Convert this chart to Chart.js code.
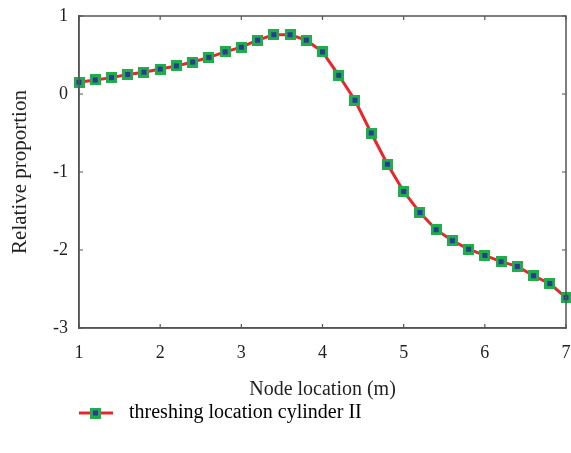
<!DOCTYPE html>
<html>
<head>
<meta charset="utf-8">
<script src="https://cdn.jsdelivr.net/npm/chart.js@4.4.1/dist/chart.umd.min.js"></script>
<style>
  html, body { margin: 0; padding: 0; background: #fff; }
  #wrap { width: 571px; height: 453px; }
</style>
</head>
<body>
<div id="wrap"><canvas id="myChart" width="571" height="453"></canvas></div>
<script>
// node locations (m)
const nodeLocations = [1.0, 1.2, 1.4, 1.6, 1.8, 2.0, 2.2, 2.4, 2.6, 2.8, 3.0,
  3.2, 3.4, 3.6, 3.8, 4.0, 4.2, 4.4, 4.6, 4.8, 5.0,
  5.2, 5.4, 5.6, 5.8, 6.0, 6.2, 6.4, 6.6, 6.8, 7.0];
// relative proportion values
const relativeProportion = [0.15, 0.18, 0.21, 0.25, 0.28, 0.32, 0.36, 0.41, 0.47, 0.54, 0.60,
  0.69, 0.76, 0.76, 0.69, 0.54, 0.24, -0.08, -0.50, -0.90, -1.25,
  -1.52, -1.74, -1.88, -1.99, -2.07, -2.15, -2.21, -2.33, -2.43, -2.61];
const seriesName = "threshing location cylinder II";
const xTitle = "Node location (m)";
const yTitle = "Relative proportion";

const red = "#e8262b";
const green = "#1fae4b";
const blue = "#2b3a92";
const textColor = "#231f20";
const axisColor = "#555555";
const serif = "'Liberation Serif', 'Times New Roman', serif";

// square marker: green box with a blue centre
function makeMarker(size, inner) {
  const c = document.createElement("canvas");
  c.width = size;
  c.height = size;
  const g = c.getContext("2d");
  g.fillStyle = green;
  g.fillRect(0, 0, size, size);
  g.fillStyle = blue;
  const o = (size - inner) / 2;
  g.fillRect(o, o, inner, inner);
  return c;
}

// legend symbol: red line with the marker in the middle (left part kept empty to push it right)
function makeLegendMarker(offset) {
  const w = offset + 40, h = 11;
  const c = document.createElement("canvas");
  c.width = w;
  c.height = h;
  const g = c.getContext("2d");
  g.strokeStyle = red;
  g.lineWidth = 3;
  g.beginPath();
  g.moveTo(offset, h / 2);
  g.lineTo(offset + 34, h / 2);
  g.stroke();
  g.drawImage(makeMarker(11, 5), offset + 11, 0);
  return c;
}

const marker = makeMarker(11, 5);
const legendMarker = makeLegendMarker(74);

// box around the plot with small inward ticks
const frame = {
  id: "frame",
  afterDraw(chart) {
    const { ctx, chartArea: a, scales } = chart;
    ctx.save();
    ctx.strokeStyle = axisColor;
    ctx.lineWidth = 1.5;
    ctx.strokeRect(a.left, a.top, a.right - a.left, a.bottom - a.top);
    ctx.lineWidth = 1.2;
    ctx.beginPath();
    scales.x.ticks.forEach((t) => {
      const px = scales.x.getPixelForValue(t.value);
      ctx.moveTo(px, a.bottom); ctx.lineTo(px, a.bottom - 4);
      ctx.moveTo(px, a.top); ctx.lineTo(px, a.top + 4);
    });
    scales.y.ticks.forEach((t) => {
      const py = scales.y.getPixelForValue(t.value);
      ctx.moveTo(a.left, py); ctx.lineTo(a.left + 4, py);
      ctx.moveTo(a.right, py); ctx.lineTo(a.right - 4, py);
    });
    ctx.stroke();
    ctx.restore();
  },
};

const ctx = document.getElementById("myChart").getContext("2d");
const myChart = new Chart(ctx, {
  type: "line",
  data: {
    datasets: [
      {
        label: seriesName,
        data: nodeLocations.map((x, i) => ({ x: x, y: relativeProportion[i] })),
        borderColor: red,
        borderWidth: 3,
        pointStyle: marker,
        pointRadius: 6,
        tension: 0,
        clip: false,
      },
    ],
  },
  options: {
    responsive: false,
    animation: false,
    layout: { autoPadding: false, padding: { top: 16, right: 5, bottom: 20, left: 0 } },
    scales: {
      x: {
        type: "linear",
        min: 1,
        max: 7,
        afterFit: (scale) => {
          scale.height = 70;
          scale.paddingLeft = 0;
          scale.paddingRight = 0;
        },
        ticks: { stepSize: 1, color: textColor, padding: 14, font: { family: serif, size: 18 } },
        grid: { display: false, drawTicks: false },
        border: { color: axisColor, width: 1.5 },
        title: {
          display: true,
          text: xTitle,
          color: textColor,
          padding: { top: 0, bottom: -4 },
          font: { family: serif, size: 20 },
        },
      },
      y: {
        min: -3,
        max: 1,
        afterFit: (scale) => {
          scale.width = 79;
          scale.paddingTop = 0;
          scale.paddingBottom = 0;
        },
        ticks: { stepSize: 1, color: textColor, padding: 11, font: { family: serif, size: 18 } },
        grid: { display: false, drawTicks: false },
        border: { color: axisColor, width: 1.5 },
        title: {
          display: true,
          text: yTitle,
          color: textColor,
          padding: { top: 8, bottom: 0 },
          font: { family: serif, size: 21 },
        },
      },
    },
    plugins: {
      legend: {
        position: "bottom",
        align: "start",
        labels: {
          usePointStyle: true,
          pointStyleWidth: 114,
          padding: 5,
          color: textColor,
          font: { family: serif, size: 20 },
          generateLabels: (chart) => [
            { text: seriesName, pointStyle: legendMarker, fillStyle: red, strokeStyle: red, lineWidth: 0, datasetIndex: 0 },
          ],
        },
      },
      tooltip: { enabled: false },
    },
  },
  plugins: [frame],
});
</script>
</body>
</html>
